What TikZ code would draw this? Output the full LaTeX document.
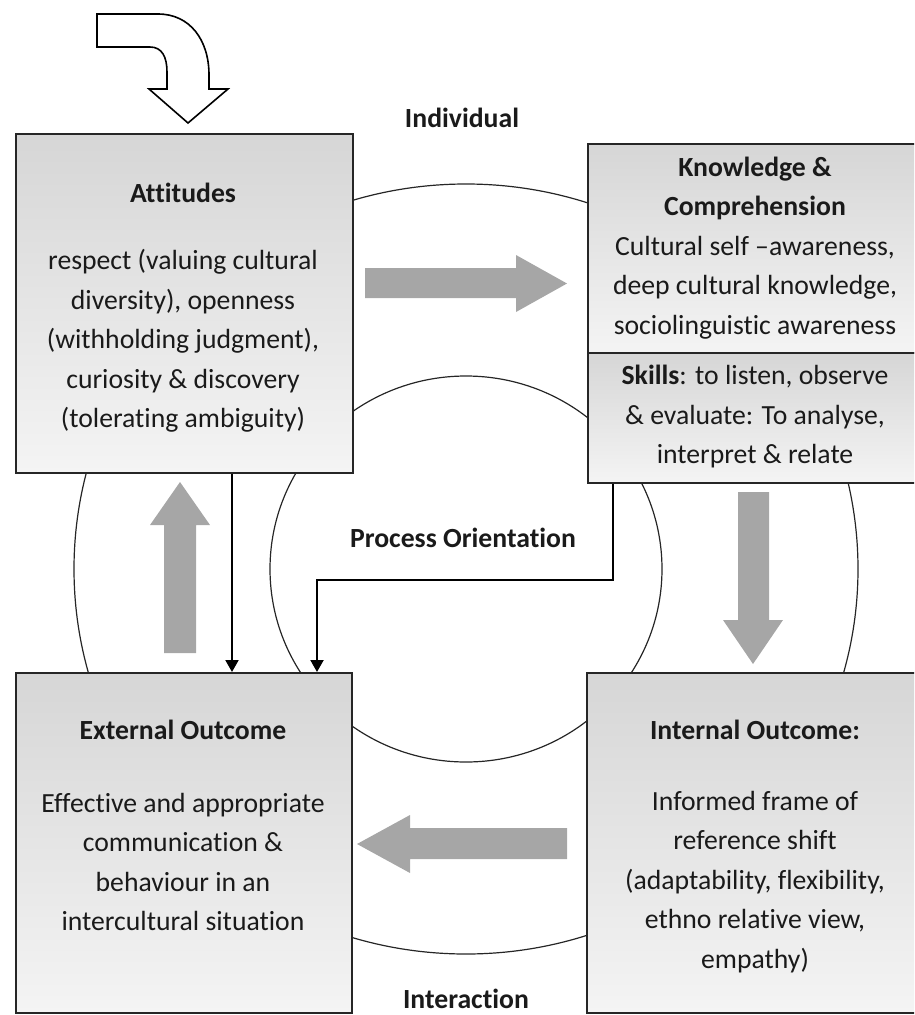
\documentclass[tikz,border=0pt]{standalone}
\usepackage{fontspec}
\setmainfont{Carlito}[Ligatures=NoCommon]
\usetikzlibrary{arrows.meta}
\definecolor{boxline}{HTML}{262626}
\definecolor{shadetop}{HTML}{D6D6D6}
\definecolor{shadebot}{HTML}{F4F4F4}
\definecolor{flow}{HTML}{A6A6A6}
\definecolor{ink}{HTML}{1A1A1A}
\begin{document}
\begin{tikzpicture}[x=1pt,y=-1pt,
  panel/.style={draw=boxline, line width=1.5pt, rectangle, inner sep=0pt,
    anchor=north west, top color=shadetop, bottom color=shadebot},
  txt/.style={font=\fontsize{27.7}{39.5}\selectfont, text=ink, align=center, inner sep=0pt},
  ttl/.style={font=\fontsize{27.7}{39.5}\selectfont\bfseries, text=ink, align=center, inner sep=0pt},
  ring/.style={draw=black!85, line width=1.2pt},
  conn/.style={draw=black, line width=2pt, -{Triangle[length=12pt,width=13pt]}},
  flowarrow/.style={fill=flow, draw=none},
]
\useasboundingbox (0,0) rectangle (914,1015);
\clip (0,0) rectangle (914,1015);

% the two rings of the cycle
\draw[ring] (466,569) ellipse [x radius=392, y radius=385];
\draw[ring] (466,569) ellipse [x radius=196, y radius=193];

% boxes
\node[panel, minimum width=337pt, minimum height=339pt] (att) at (15,133) {};
\node[panel, minimum width=336pt, minimum height=209pt] (know) at (587,143) {};
\node[panel, minimum width=336pt, minimum height=130pt] (skill) at (587,352) {};
\node[panel, minimum width=336pt, minimum height=340pt] (ext) at (15,672) {};
\node[panel, minimum width=337pt, minimum height=340pt] (int) at (586,672) {};

% box texts
\node[ttl] (attT) at (183,193) {Attitudes};
\node[txt] (attB) at (183,341) {respect (valuing cultural\\ diversity), openness\\ (withholding judgment),\\ curiosity \& discovery\\ (tolerating ambiguity)};
\node[txt] (knowB) at (755,248) {\textbf{Knowledge \&}\\ \textbf{Comprehension}\\ Cultural self \textendash awareness,\\ deep cultural knowledge,\\ sociolinguistic awareness};
\node[txt] (skillB) at (755,417) {\textbf{Skills}: to listen, observe\\ \& evaluate: To analyse,\\ interpret \& relate};
\node[ttl] (extT) at (183,730) {External Outcome};
\node[txt] (extB) at (183,862) {Effective and appropriate\\ communication \&\\ behaviour in an\\ intercultural situation};
\node[ttl] (intT) at (755,730) {Internal Outcome:};
\node[txt] (intB) at (755,882) {Informed frame of\\ reference shift\\ (adaptability, flexibility,\\ ethno relative view,\\ empathy)};

% ring labels
\node[ttl] (lblInd) at (462,118) {Individual};
\node[ttl] (lblProc) at (463,538) {Process Orientation};
\node[ttl] (lblInt) at (466,999) {Interaction};

% connectors into the external outcome
\coordinate (xa) at (232,0);
\coordinate (xs) at (613,0);
\coordinate (xe) at (317,0);
\coordinate (bend) at (0,580);
\draw[conn] (att.south -| xa) -- (ext.north -| xa);
\draw[conn] (skill.south -| xs) |- (bend -| xe) -- (ext.north -| xe);

% broad grey flow arrows
\fill[flowarrow] (365,268) -- (516,268) -- (516,255) -- (567,283.5) -- (516,312) -- (516,298) -- (365,298) -- cycle;
\fill[flowarrow] (738,492) -- (769,492) -- (769,620) -- (783,620) -- (753,664) -- (723,620) -- (738,620) -- cycle;
\fill[flowarrow] (567,828) -- (567,859) -- (410,859) -- (410,873) -- (357,844) -- (410,815) -- (410,828) -- cycle;
\fill[flowarrow] (164,653) -- (196,653) -- (196,525) -- (210,525) -- (180,482) -- (150,525) -- (164,525) -- cycle;

% outlined entry arrow
\draw[line width=1.6pt, fill=white, line join=miter]
  (97,14) -- (158,14) .. controls (190,14) and (209,40) .. (209,75) -- (209,89)
  -- (228,89) -- (188,123) -- (149,89) -- (167,89) -- (167,72)
  .. controls (167,57) and (162,47) .. (150,47) -- (97,47) -- cycle;
\end{tikzpicture}
\end{document}
